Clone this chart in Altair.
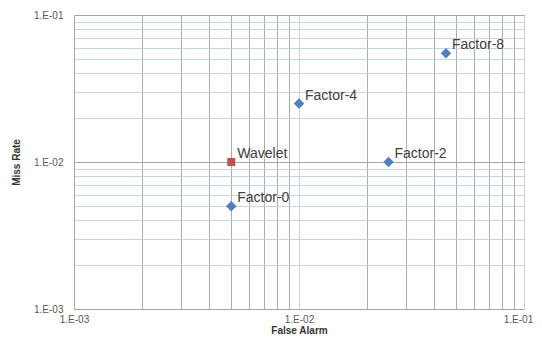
import altair as alt
import pandas as pd

# Data
labels = ["Factor-0", "Factor-2", "Factor-4", "Factor-8", "Wavelet"]
series = ["Factor", "Factor", "Factor", "Factor", "Wavelet"]
false_alarm = [0.005, 0.025, 0.01, 0.045, 0.005]
miss_rate = [0.005, 0.01, 0.025, 0.055, 0.01]

decades = [0.001, 0.01, 0.1]
minor_ticks = [m * d for d in [0.001, 0.01] for m in range(2, 10)]
grid_values = sorted(decades + minor_ticks)

df = pd.DataFrame({"label": labels, "series": series, "fa": false_alarm, "mr": miss_rate})

is_major = "abs(log(datum.value)/LN10 - round(log(datum.value)/LN10)) < 0.001"
label_expr = f"({is_major}) ? '1.E-0' + format(-round(log(datum.value)/LN10), 'd') : ''"

FONT = "Liberation Sans"

x_axis = alt.Axis(
    title="False Alarm", values=grid_values, labelExpr=label_expr, labelFlush=False,
    labelOverlap=False, ticks=False, grid=True,
    gridColor={"condition": {"test": is_major, "value": "#cfcfcf"}, "value": "#ababab"},
    labelOffset={"condition": {"test": "datum.value > 0.05", "value": -6}, "value": 0},
    domainColor="#a6a6a6", labelFont=FONT, labelFontSize=10, labelColor="#595959",
    labelPadding=5, titleFont=FONT, titleFontSize=10, titleFontWeight="bold",
    titleColor="#333333", titlePadding=1,
)
y_axis = alt.Axis(
    title="Miss Rate", values=grid_values, labelExpr=label_expr, labelFlush=False,
    labelOverlap=False, ticks=False, grid=True,
    gridColor={"condition": {"test": is_major, "value": "#a6a6a6"}, "value": "#c9d3e8"},
    domainColor="#a6a6a6", labelFont=FONT, labelFontSize=10, labelColor="#595959",
    labelPadding=11, titleFont=FONT, titleFontSize=10, titleFontWeight="bold",
    titleColor="#333333", titlePadding=12,
)

xs = alt.Scale(type="log", domain=[0.001, 0.1], nice=False)
ys = alt.Scale(type="log", domain=[0.001, 0.1], nice=False)

base = alt.Chart(df)

points = base.mark_point(filled=True, opacity=1, strokeWidth=0).encode(
    x=alt.X("fa:Q", scale=xs, axis=x_axis),
    y=alt.Y("mr:Q", scale=ys, axis=y_axis),
    color=alt.Color("series:N", scale=alt.Scale(domain=["Factor", "Wavelet"], range=["#4f81bd", "#c0504d"]), legend=None),
    shape=alt.Shape("series:N", scale=alt.Scale(domain=["Factor", "Wavelet"], range=["diamond", "square"]), legend=None),
    size=alt.Size("series:N", scale=alt.Scale(domain=["Factor", "Wavelet"], range=[110, 64]), legend=None),
)

texts = base.mark_text(align="left", baseline="middle", dx=6, dy=-8, font=FONT,
                       fontSize=14, color="#404040").encode(
    x=alt.X("fa:Q", scale=xs),
    y=alt.Y("mr:Q", scale=ys),
    text="label:N",
)

chart = alt.layer(points, texts).properties(
    width=450, height=294,
    padding={"left": 66, "top": 7, "right": 10, "bottom": 27},
    autosize=alt.AutoSizeParams(type="none"),
).configure_view(stroke=None).configure(background="white")

chart.save("out.html", embed_options={"renderer": "svg", "actions": False})
